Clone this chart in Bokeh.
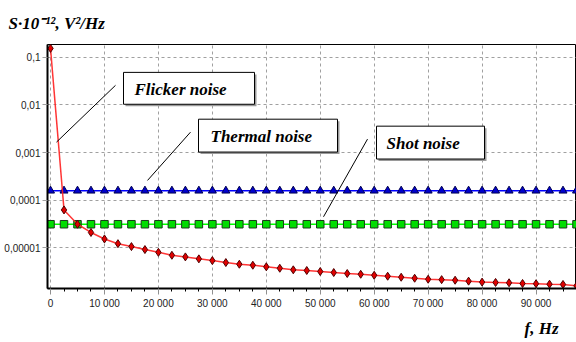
from bokeh.plotting import figure
from bokeh.models import Range1d, FixedTicker, Label, Title
from bokeh.embed import file_html
from bokeh.resources import INLINE
import math

# ---------------- data ----------------
freq = [0, 2500, 5000, 7500, 10000, 12500, 15000, 17500, 20000, 22500,
        25000, 27500, 30000, 32500, 35000, 37500, 40000, 42500, 45000, 47500,
        50000, 52500, 55000, 57500, 60000, 62500, 65000, 67500, 70000, 72500,
        75000, 77500, 80000, 82500, 85000, 87500, 90000, 92500, 95000, 97500]

flicker = [0.155, 6.2e-5, 3.1e-5, 2.08e-5, 1.52e-5, 1.21e-5, 1.05e-5, 9.1e-6, 7.96e-6, 6.9e-6,
           6.38e-6, 5.8e-6, 5.33e-6, 4.85e-6, 4.47e-6, 4.26e-6, 3.94e-6, 3.68e-6, 3.41e-6, 3.3e-6,
           3.14e-6, 2.99e-6, 2.85e-6, 2.75e-6, 2.62e-6, 2.5e-6, 2.38e-6, 2.27e-6, 2.16e-6, 2.12e-6,
           2.06e-6, 1.97e-6, 1.88e-6, 1.85e-6, 1.82e-6, 1.76e-6, 1.74e-6, 1.70e-6, 1.68e-6, 1.57e-6]

thermal = [1.57e-4, 1.57e-4, 1.57e-4, 1.57e-4, 1.57e-4, 1.57e-4, 1.57e-4, 1.57e-4, 1.57e-4, 1.57e-4,
           1.57e-4, 1.57e-4, 1.57e-4, 1.57e-4, 1.57e-4, 1.57e-4, 1.57e-4, 1.57e-4, 1.57e-4, 1.57e-4,
           1.57e-4, 1.57e-4, 1.57e-4, 1.57e-4, 1.57e-4, 1.57e-4, 1.57e-4, 1.57e-4, 1.57e-4, 1.57e-4,
           1.57e-4, 1.57e-4, 1.57e-4, 1.57e-4, 1.57e-4, 1.57e-4, 1.57e-4, 1.57e-4, 1.57e-4, 1.57e-4]

shot = [3.1e-5, 3.1e-5, 3.1e-5, 3.1e-5, 3.1e-5, 3.1e-5, 3.1e-5, 3.1e-5, 3.1e-5, 3.1e-5,
        3.1e-5, 3.1e-5, 3.1e-5, 3.1e-5, 3.1e-5, 3.1e-5, 3.1e-5, 3.1e-5, 3.1e-5, 3.1e-5,
        3.1e-5, 3.1e-5, 3.1e-5, 3.1e-5, 3.1e-5, 3.1e-5, 3.1e-5, 3.1e-5, 3.1e-5, 3.1e-5,
        3.1e-5, 3.1e-5, 3.1e-5, 3.1e-5, 3.1e-5, 3.1e-5, 3.1e-5, 3.1e-5, 3.1e-5, 3.1e-5]

x_ticks = [0, 10000, 20000, 30000, 40000, 50000, 60000, 70000, 80000, 90000]
x_tick_labels = ["0", "10 000", "20 000", "30 000", "40 000", "50 000",
                 "60 000", "70 000", "80 000", "90 000"]
x_minor_ticks = [2500, 5000, 7500, 12500, 15000, 17500, 22500, 25000, 27500,
                 32500, 35000, 37500, 42500, 45000, 47500, 52500, 55000, 57500,
                 62500, 65000, 67500, 72500, 75000, 77500, 82500, 85000, 87500,
                 92500, 95000, 97500]
y_ticks = [0.1, 0.01, 0.001, 0.0001, 0.00001]
y_tick_labels = ["0,1", "0,01", "0,001", "0,0001", "0,00001"]

y_title = "S·10⁻¹², V²/Hz"
x_title = "f, Hz"
notes = ["Flicker noise", "Thermal noise", "Shot noise"]

# ---------------- layout ----------------
W, H = 576, 342
FL, FR, FT, FB = 47, 576, 44, 289
X0, X1 = -560, 97500
LT, LB = math.log10(0.187), math.log10(1.38e-6)


def sx(px):
    return X0 + (px - FL) * (X1 - X0) / (FR - FL)


def sy(py):
    return 10 ** (LT - (py - FT) * (LT - LB) / (FB - FT))


p = figure(width=W, height=H, x_range=Range1d(X0, X1), y_range=Range1d(10 ** LB, 10 ** LT),
           y_axis_type="log", output_backend="svg", toolbar_location=None,
           min_border_left=FL, min_border_right=W - FR, min_border_top=FT,
           min_border_bottom=H - FB)
p.background_fill_color = "white"
p.border_fill_color = "white"
p.outline_line_color = "black"
p.outline_line_width = 1

# grid
for g in (p.xgrid, p.ygrid):
    g.grid_line_color = "#a0a0a0"
    g.grid_line_dash = "3 3"
    g.grid_line_width = 1
p.xgrid.ticker = FixedTicker(ticks=x_ticks)
p.ygrid.ticker = FixedTicker(ticks=y_ticks)

# x axis
xa = p.xaxis[0]
xa.ticker = FixedTicker(ticks=x_ticks, minor_ticks=x_minor_ticks)
xa.major_label_overrides = {t: l for t, l in zip(x_ticks, x_tick_labels)}
xa.axis_line_color = "black"
xa.axis_line_width = 2
xa.major_tick_in = 0
xa.major_tick_out = 6
xa.major_tick_line_color = "#909090"
xa.minor_tick_in = 0
xa.minor_tick_out = 3
xa.minor_tick_line_color = "black"
xa.major_label_standoff = 3
xa.major_label_text_font = "Liberation Sans"
xa.major_label_text_font_size = "10px"
xa.major_label_text_color = "#222222"

# y axis
ya = p.yaxis[0]
ya.ticker = FixedTicker(ticks=y_ticks, minor_ticks=[])
ya.major_label_overrides = {t: l for t, l in zip(y_ticks, y_tick_labels)}
ya.axis_line_color = "black"
ya.axis_line_width = 2
ya.major_tick_in = 0
ya.major_tick_out = 5
ya.major_tick_line_color = "#a0a0a0"
ya.minor_tick_line_color = None
ya.major_label_standoff = 2
ya.major_label_text_font = "Liberation Sans"
ya.major_label_text_font_size = "10px"
ya.major_label_text_color = "#222222"

# series
p.line(freq, thermal, line_color="#0000ff", line_width=1.5)
p.scatter(freq, thermal, marker="triangle", size=8, fill_color="#0000cc", line_color="#000050")
p.line(freq, shot, line_color="#00ff00", line_width=1.5)
p.scatter(freq, shot, marker="square", size=7.5, fill_color="#00dd00", line_color="#1a3a1a")
p.line(freq, flicker, line_color="#ff2020", line_width=1.5, line_alpha=0.9)
p.scatter(freq, flicker, marker="diamond", size=8, fill_color="#e00000", line_color="#500000")

# annotation boxes with shadow, leader lines and texts
boxes = [(123, 254, 72, 104), (198, 337, 119, 152), (376, 484, 126, 159)]
text_x = [134, 210, 386]
leaders = [((115, 85), (56, 142)), ((190, 132), (147, 180.5)), ((367, 139), (323, 217))]
for (l, r, t, b), tx, ((ax, ay), (bx, by)), txt in zip(boxes, text_x, leaders, notes):
    p.quad(left=sx(l + 2), right=sx(r + 2), top=sy(t + 2), bottom=sy(b + 2),
           fill_color="#9a9a9a", line_color=None)
    p.quad(left=sx(l), right=sx(r), top=sy(t), bottom=sy(b),
           fill_color="white", line_color="black", line_width=1)
    p.line([sx(ax), sx(bx)], [sy(ay), sy(by)], line_color="black", line_width=1)
    p.add_layout(Label(x=sx(tx), y=sy((t + b) / 2 + 1), text=txt,
                       text_font="Liberation Serif", text_font_style="bold italic",
                       text_font_size="17px", text_baseline="middle", text_align="left",
                       text_color="black"))

# titles outside the frame
t_top = Title(text=y_title, align="left", offset=8 - FL, standoff=20,
              vertical_align="top", text_font="Liberation Serif",
              text_font_style="bold italic", text_font_size="17px", text_color="black")
p.add_layout(t_top, "above")
t_bot = Title(text=x_title, align="right", offset=W - 558, standoff=10,
              vertical_align="bottom", text_font="Liberation Serif",
              text_font_style="bold italic", text_font_size="17px", text_color="black")
p.add_layout(t_bot, "below")

open("out.html", "w").write(file_html(p, INLINE))
